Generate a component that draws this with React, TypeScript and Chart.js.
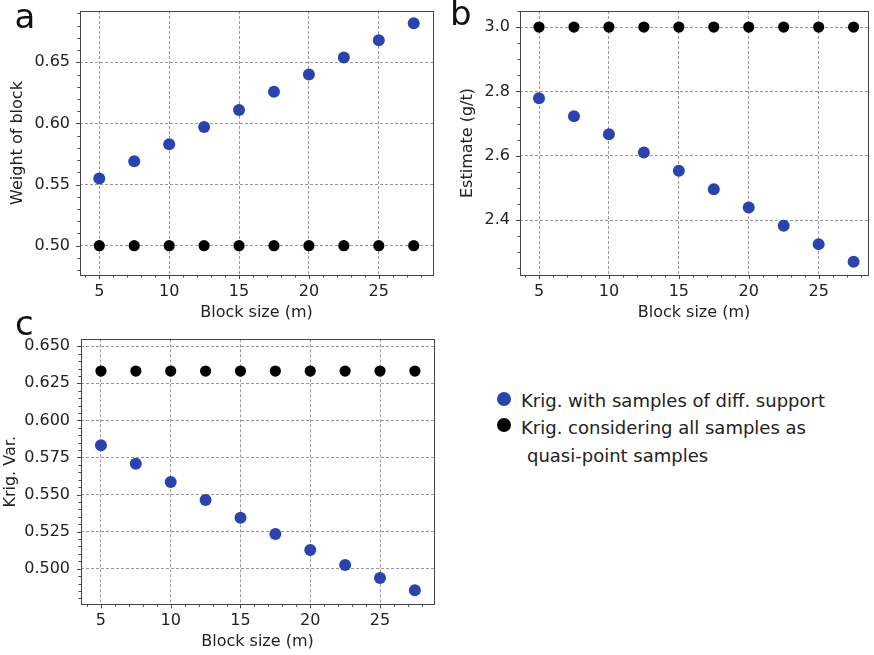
import React, { useEffect, useRef } from 'react';
import { Chart, registerables } from 'chart.js';

Chart.register(...registerables);

// ---------------- data ----------------
const blockSizes = [5, 7.5, 10, 12.5, 15, 17.5, 20, 22.5, 25, 27.5];

const weightDiffSupport = [0.555, 0.569, 0.583, 0.597, 0.611, 0.626, 0.640, 0.654, 0.668, 0.682];
const weightQuasiPoint = [0.5, 0.5, 0.5, 0.5, 0.5, 0.5, 0.5, 0.5, 0.5, 0.5];

const estimateDiffSupport = [2.779, 2.723, 2.667, 2.610, 2.553, 2.496, 2.439, 2.382, 2.325, 2.270];
const estimateQuasiPoint = [3.0, 3.0, 3.0, 3.0, 3.0, 3.0, 3.0, 3.0, 3.0, 3.0];

const krigVarDiffSupport = [0.5832, 0.5708, 0.5584, 0.5463, 0.5344, 0.5234, 0.5126, 0.5025, 0.4938, 0.4855];
const krigVarQuasiPoint = [0.6333, 0.6333, 0.6333, 0.6333, 0.6333, 0.6333, 0.6333, 0.6333, 0.6333, 0.6333];

const xTicks = [5, 10, 15, 20, 25];
const weightTicks = [0.5, 0.55, 0.6, 0.65];
const estimateTicks = [2.4, 2.6, 2.8, 3.0];
const krigVarTicks = [0.5, 0.525, 0.55, 0.575, 0.6, 0.625, 0.65];

const legendLabels = [
  'Krig. with samples of diff. support',
  'Krig. considering all samples as',
  'quasi-point samples',
];

// ---------------- styling ----------------
const FONT = "'DejaVu Sans', Verdana, sans-serif";
const BLUE = '#2b44ad';
const TEXT = '#222';
const GRID = '#999';
const AXIS = '#444';

const frameAndMinorTicks = {
  id: 'frameMinor',
  afterDraw(chart: any, _args: any, opts: any) {
    const { ctx, chartArea } = chart;
    const { left, right, top, bottom } = chartArea;
    const xs = chart.scales.x;
    const ys = chart.scales.y;
    ctx.save();
    ctx.strokeStyle = AXIS;
    ctx.lineWidth = 1;
    ctx.setLineDash([]);
    ctx.beginPath();
    const x0 = Math.ceil(xs.min / opts.xMinor);
    const x1 = Math.floor(xs.max / opts.xMinor);
    for (let i = x0; i <= x1; i++) {
      const px = Math.round(xs.getPixelForValue(i * opts.xMinor)) + 0.5;
      ctx.moveTo(px, bottom);
      ctx.lineTo(px, bottom + 2.5);
    }
    for (const v of opts.xMajor) {
      const px = Math.round(xs.getPixelForValue(v)) + 0.5;
      ctx.moveTo(px, bottom);
      ctx.lineTo(px, bottom + 4);
    }
    const y0 = Math.ceil(ys.min / opts.yMinor - 1e-6);
    const y1 = Math.floor(ys.max / opts.yMinor + 1e-6);
    for (let i = y0; i <= y1; i++) {
      const py = Math.round(ys.getPixelForValue(i * opts.yMinor)) + 0.5;
      ctx.moveTo(left, py);
      ctx.lineTo(left - 2.5, py);
    }
    for (const v of opts.yMajor) {
      const py = Math.round(ys.getPixelForValue(v)) + 0.5;
      ctx.moveTo(left, py);
      ctx.lineTo(left - 4, py);
    }
    ctx.stroke();
    ctx.strokeRect(Math.round(left) + 0.5, Math.round(top) + 0.5, Math.round(right - left), Math.round(bottom - top));
    ctx.restore();
  },
};

type PanelSpec = {
  left: number;
  top: number;
  width: number;
  height: number;
  padTop: number;
  padRight: number;
  yWidth: number;
  xHeight: number;
  xMin: number;
  xMax: number;
  yMin: number;
  yMax: number;
  yTicks: number[];
  yDecimals: number;
  yMinor: number;
  yTitle: string;
  yTitlePad: number;
  yTickPad: number;
  diff: number[];
  quasi: number[];
};

const panels: PanelSpec[] = [
  {
    left: 0, top: 0, width: 440, height: 322,
    padTop: 11, padRight: 7, yWidth: 80, xHeight: 47,
    xMin: 3.62, xMax: 28.88, yMin: 0.476, yMax: 0.692,
    yTicks: weightTicks, yDecimals: 2, yMinor: 0.01,
    yTitle: 'Weight of block', yTitlePad: 8.5, yTickPad: 10,
    diff: weightDiffSupport, quasi: weightQuasiPoint,
  },
  {
    left: 440, top: 0, width: 434, height: 322,
    padTop: 11, padRight: 6, yWidth: 80, xHeight: 47,
    xMin: 3.64, xMax: 28.53, yMin: 2.229, yMax: 3.05,
    yTicks: estimateTicks, yDecimals: 1, yMinor: 0.05,
    yTitle: 'Estimate (g/t)', yTitlePad: 18.5, yTickPad: 10,
    diff: estimateDiffSupport, quasi: estimateQuasiPoint,
  },
  {
    left: 0, top: 310, width: 440, height: 341,
    padTop: 29.3, padRight: 5.7, yWidth: 81, xHeight: 46.7,
    xMin: 3.57, xMax: 28.87, yMin: 0.476, yMax: 0.6547,
    yTicks: krigVarTicks, yDecimals: 3, yMinor: 0.005,
    yTitle: 'Krig. Var.', yTitlePad: 1.5, yTickPad: 11,
    diff: krigVarDiffSupport, quasi: krigVarQuasiPoint,
  },
];

function Panel({ spec }: { spec: PanelSpec }) {
  const ref = useRef<HTMLCanvasElement | null>(null);
  useEffect(() => {
    if (!ref.current) return;
    const font = { family: FONT, size: 16 };
    const chart = new Chart(ref.current, {
      type: 'scatter',
      data: {
        datasets: [
          {
            label: legendLabels[0],
            data: blockSizes.map((x, i) => ({ x, y: spec.diff[i] })),
            backgroundColor: BLUE,
            borderColor: BLUE,
            borderWidth: 0,
            pointRadius: 6,
          },
          {
            label: legendLabels[1] + ' ' + legendLabels[2],
            data: blockSizes.map((x, i) => ({ x, y: spec.quasi[i] })),
            backgroundColor: '#000',
            borderColor: '#000',
            borderWidth: 0,
            pointRadius: 5.6,
          },
        ],
      },
      options: {
        animation: false,
        responsive: false,
        maintainAspectRatio: false,
        events: [],
        layout: { padding: { top: spec.padTop, right: spec.padRight, left: 0, bottom: 0 } },
        plugins: {
          legend: { display: false },
          tooltip: { enabled: false },
          frameMinor: { xMinor: 1, xMajor: xTicks, yMinor: spec.yMinor, yMajor: spec.yTicks },
        } as any,
        scales: {
          x: {
            type: 'linear',
            min: spec.xMin,
            max: spec.xMax,
            afterBuildTicks: (s: any) => { s.ticks = xTicks.map((v) => ({ value: v })); },
            afterFit: (s: any) => {
              s.height = spec.xHeight;
              s.paddingLeft = 0;
              s.paddingRight = 0;
            },
            ticks: {
              font, color: TEXT, padding: 7, maxRotation: 0, autoSkip: false,
              callback: (v: any) => String(v),
            },
            grid: { color: GRID, lineWidth: 1, drawTicks: false },
            border: { display: false, dash: [3, 2] },
            title: {
              display: true, text: 'Block size (m)', font, color: TEXT,
              padding: { top: 0, bottom: 0 },
            },
          },
          y: {
            type: 'linear',
            min: spec.yMin,
            max: spec.yMax,
            afterBuildTicks: (s: any) => { s.ticks = spec.yTicks.map((v) => ({ value: v })); },
            afterFit: (s: any) => {
              s.width = spec.yWidth;
              s.paddingTop = 0;
              s.paddingBottom = 0;
            },
            ticks: {
              font, color: TEXT, padding: spec.yTickPad, autoSkip: false,
              callback: (v: any) => Number(v).toFixed(spec.yDecimals),
            },
            grid: { color: GRID, lineWidth: 1, drawTicks: false },
            border: { display: false, dash: [3, 2] },
            title: {
              display: true, text: spec.yTitle, font, color: TEXT,
              padding: { top: spec.yTitlePad, bottom: 0 },
            },
          },
        },
      } as any,
      plugins: [frameAndMinorTicks],
    });
    return () => chart.destroy();
  }, [spec]);
  return (
    <canvas
      ref={ref}
      width={spec.width}
      height={spec.height}
      style={{ position: 'absolute', left: spec.left, top: spec.top, width: spec.width, height: spec.height }}
    />
  );
}

const panelLetters = [
  { text: 'a', left: 14.5, top: -1 },
  { text: 'b', left: 450, top: -4 },
  { text: 'c', left: 15, top: 306 },
];

export default function App() {
  return (
    <div style={{ position: 'absolute', left: 0, top: 0, width: 874, height: 655, background: '#fff', overflow: 'hidden', fontFamily: FONT }}>
      {panels.map((p, i) => <Panel key={i} spec={p} />)}
      {panelLetters.map((l) => (
        <div key={l.text} style={{ position: 'absolute', left: l.left, top: l.top, fontSize: 34, lineHeight: '34px', color: '#111' }}>{l.text}</div>
      ))}
      <div style={{ position: 'absolute', left: 497, top: 392, width: 14, height: 14, borderRadius: '50%', background: BLUE }} />
      <div style={{ position: 'absolute', left: 497, top: 418, width: 14, height: 14, borderRadius: '50%', background: '#000' }} />
      <div style={{ position: 'absolute', left: 521, top: 387, fontSize: 18, lineHeight: '28px', color: TEXT, whiteSpace: 'nowrap' }}>{legendLabels[0]}</div>
      <div style={{ position: 'absolute', left: 521, top: 414, fontSize: 18, lineHeight: '28px', color: TEXT, whiteSpace: 'nowrap' }}>{legendLabels[1]}</div>
      <div style={{ position: 'absolute', left: 527, top: 442, fontSize: 18, lineHeight: '28px', color: TEXT, whiteSpace: 'nowrap' }}>{legendLabels[2]}</div>
    </div>
  );
}
